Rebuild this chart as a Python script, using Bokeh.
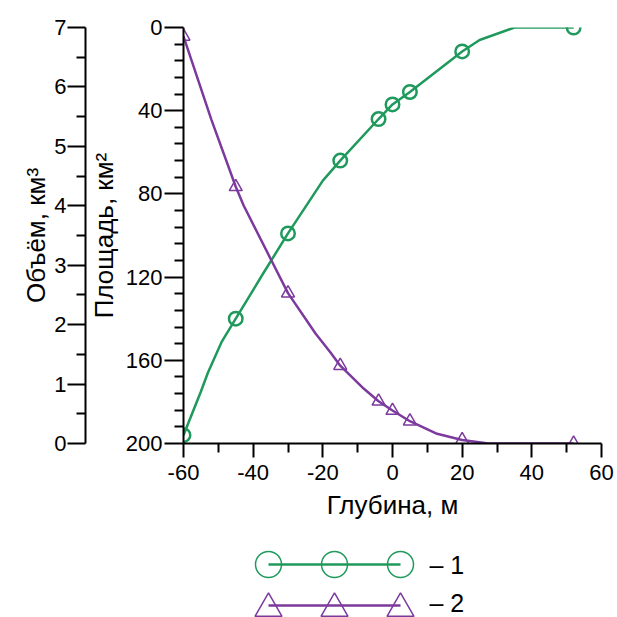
from bokeh.plotting import figure
from bokeh.models import Range1d, LinearAxis, FixedTicker
from bokeh.layouts import column
from bokeh.embed import file_html
from bokeh.resources import INLINE
from bokeh.core.properties import value

# ---------------- data ----------------
depth_pts = [-60, -45, -30, -15, -4, 0, 5, 20, 52]
area_pts = [196, 140, 99, 64, 44, 37, 31, 11.5, 0]
volume_pts = [6.85, 4.32, 2.53, 1.31, 0.71, 0.555, 0.375, 0.06, 0.0]

area_line_depth = [-60, -55, -53, -49, -45, -37.4, -30, -20, -15, -4, 0, 5, 20, 25, 35, 52]
area_line = [196, 175, 166, 151, 140, 119, 99, 73.6, 64, 44, 37, 31, 11.5, 6, 0, 0]

volume_line_depth = [-60, -52, -45, -42.7, -34.5, -30, -22.1, -17.8, -15, -8.2, -4, 0, 5,
                     12.8, 20, 27, 35, 52]
volume_line = [6.85, 5.45, 4.32, 4.0, 3.05, 2.53, 1.85, 1.53, 1.31, 0.92, 0.71, 0.555, 0.375,
               0.163, 0.06, 0.005, 0, 0]

x_ticks = [-60, -40, -20, 0, 20, 40, 60]
x_tick_labels = ["-60", "-40", "-20", "0", "20", "40", "60"]
x_minor_ticks = [-50, -30, -10, 10, 30, 50]
area_ticks = [0, 40, 80, 120, 160, 200]
area_minor_ticks = [8, 16, 24, 32, 48, 56, 64, 72, 88, 96, 104, 112,
                    128, 136, 144, 152, 168, 176, 184, 192]
volume_ticks = [0, 1, 2, 3, 4, 5, 6, 7]
volume_minor_ticks = [0.5, 1.5, 2.5, 3.5, 4.5, 5.5, 6.5]

x_title = "Глубина, м"
area_title = "Площадь, км²"
volume_title = "Объём, км³"
legend_labels = ["– 1", "– 2"]

GREEN = "#1f9a5c"
PURPLE = "#7c3a9e"
FONT = "Liberation Sans"

W = 617
FRAME_L, FRAME_R = 183, 601

# ---------------- main chart ----------------
p = figure(width=W, height=523,
           x_range=Range1d(-60, 60), y_range=Range1d(200, 0),
           output_backend="svg", toolbar_location=None,
           min_border_left=FRAME_L, min_border_right=W - FRAME_R,
           min_border_top=27, min_border_bottom=80)
p.outline_line_color = None
p.grid.visible = False
p.extra_y_ranges = {"vol": Range1d(0, 7)}


def style_axis(ax, tick_out, minor_out, standoff, title_standoff):
    ax.axis_line_width = 2
    ax.axis_line_color = "black"
    ax.major_tick_line_width = 2
    ax.minor_tick_line_width = 2
    ax.major_tick_line_color = "black"
    ax.minor_tick_line_color = "black"
    ax.major_tick_in = 0
    ax.minor_tick_in = 0
    ax.major_tick_out = tick_out
    ax.minor_tick_out = minor_out
    ax.major_label_standoff = standoff
    ax.major_label_text_font = FONT
    ax.major_label_text_font_size = "22px"
    ax.major_label_text_color = "black"
    ax.axis_label_text_font = FONT
    ax.axis_label_text_font_size = "26px"
    ax.axis_label_text_font_style = "normal"
    ax.axis_label_text_color = "black"
    ax.axis_label_standoff = title_standoff


xa = p.xaxis[0]
xa.ticker = FixedTicker(ticks=x_ticks, minor_ticks=x_minor_ticks)
xa.major_label_overrides = {t: l for t, l in zip(x_ticks, x_tick_labels)}
xa.axis_label = x_title
style_axis(xa, 14, 9, 7, 7)

ya = p.yaxis[0]
ya.ticker = FixedTicker(ticks=area_ticks, minor_ticks=area_minor_ticks)
ya.axis_label = area_title
style_axis(ya, 19, 9, 2, 4)

# invisible spacer between the two left axes
spacer = LinearAxis(y_range_name="vol", ticker=FixedTicker(ticks=[]),
                    axis_line_color=None, major_tick_line_color=None,
                    minor_tick_line_color=None, major_tick_out=19,
                    minor_tick_out=0, major_tick_in=0, minor_tick_in=0)
p.add_layout(spacer, "left")

va = LinearAxis(y_range_name="vol",
                ticker=FixedTicker(ticks=volume_ticks, minor_ticks=volume_minor_ticks),
                axis_label=volume_title)
style_axis(va, 18, 9, 1, 0)
p.add_layout(va, "left")

# series 1: area (left inner axis, reversed)
p.line(area_line_depth, area_line, line_color=GREEN, line_width=2.5)
p.scatter(depth_pts, area_pts, marker="circle", size=13.5,
          fill_color=None, line_color=GREEN, line_width=2.5)

# series 2: volume (outer axis)
p.line(volume_line_depth, volume_line, y_range_name="vol",
       line_color=PURPLE, line_width=2.5)
p.scatter(depth_pts, volume_pts, y_range_name="vol", marker="triangle", size=13,
          fill_color=None, line_color=PURPLE, line_width=1.5)

# ---------------- legend (separate strip below, page-pixel coordinates) ----------------
LG_TOP, LG_H = 523, 94
lg = figure(width=W, height=LG_H, x_range=Range1d(FRAME_L, FRAME_R),
            y_range=Range1d(LG_TOP + LG_H, LG_TOP),
            output_backend="svg", toolbar_location=None,
            min_border_left=FRAME_L, min_border_right=W - FRAME_R,
            min_border_top=0, min_border_bottom=0)
lg.axis.visible = False
lg.grid.visible = False
lg.outline_line_color = None

sample_x = [268, 334, 400]
row_y = [564, 605]
text_y = [564, 602]
lg.line([sample_x[0], sample_x[-1]], [row_y[0], row_y[0]], line_color=GREEN, line_width=2.5)
lg.scatter(sample_x, [row_y[0]] * 3, marker="circle", size=26,
           fill_color=None, line_color=GREEN, line_width=1.5)
lg.line([sample_x[0], sample_x[-1]], [row_y[1], row_y[1]], line_color=PURPLE, line_width=2.5)
lg.scatter(sample_x, [row_y[1] + 3] * 3, marker="triangle", size=27,
           fill_color=None, line_color=PURPLE, line_width=1.5)
lg.text([429, 429], text_y, text=legend_labels,
        text_font=value(FONT), text_font_size="25px", text_color="black",
        text_baseline="middle", text_align="left")

layout = column(p, lg, spacing=0)
open("out.html", "w").write(file_html(layout, INLINE))
